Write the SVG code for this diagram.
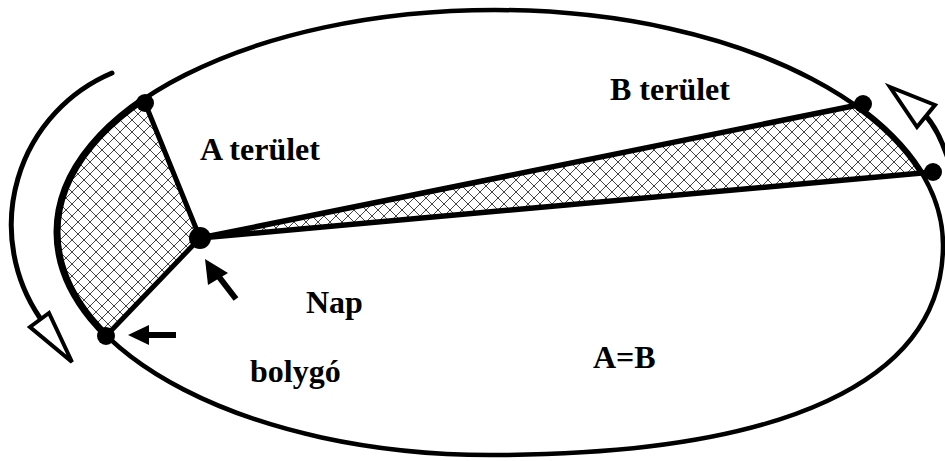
<svg xmlns="http://www.w3.org/2000/svg" width="945" height="461" viewBox="0 0 945 461">
<style>
.lbl{font-family:"Liberation Serif","Times New Roman",serif;font-weight:bold;font-size:32px;fill:#000}
.ln{fill:none;stroke:#000;stroke-linejoin:round;stroke-linecap:round}
.dot{fill:#000}
</style>
<defs>
<pattern id="hatch" patternUnits="userSpaceOnUse" width="12" height="12">
<path d="M0,0 L12,12 M12,0 L0,12" stroke="#444" stroke-width="1"/>
</pattern>
<path id="orbitPath" d="M495,10 C742,10 943,115 943,245 C943,381 785,455 490,455 C251,455 57,355 57,232 C57,109 253,10 495,10 Z"/>
<clipPath id="inOrbit"><use href="#orbitPath"/></clipPath>
<clipPath id="wedgeA"><polygon points="200,238 145,103 125,54 -10,54 -10,400 66,378 106,336"/></clipPath>
<clipPath id="wedgeB"><polygon points="200,238 863,104 962,84 1000,84 1000,166 933,172"/></clipPath>
</defs>
<rect width="945" height="461" fill="#fff"/>
<g id="orbit">
<use href="#orbitPath" fill="none" stroke="#000" stroke-width="4.5"/>
</g>
<g id="areaA">
<g clip-path="url(#inOrbit)"><polygon points="200,238 145,103 125,54 -10,54 -10,400 66,378 106,336" fill="url(#hatch)"/></g>
<use href="#orbitPath" fill="none" stroke="#000" stroke-width="7" clip-path="url(#wedgeA)"/>
<path class="ln" d="M145,103 L200,238 L106,336" stroke-width="5"/>
<text class="lbl" x="200" y="160">A terület</text>
</g>
<g id="areaB">
<g clip-path="url(#inOrbit)"><polygon points="200,238 863,104 962,84 1000,84 1000,166 933,172" fill="url(#hatch)"/></g>
<use href="#orbitPath" fill="none" stroke="#000" stroke-width="6" clip-path="url(#wedgeB)"/>
<path class="ln" d="M863,104 L200,238 L933,172" stroke-width="5.5"/>
<text class="lbl" x="610" y="100">B terület</text>
</g>
<g id="sun">
<circle class="dot" cx="200" cy="238" r="11"/>
<text class="lbl" x="306" y="313">Nap</text>
</g>
<g id="planet">
<circle class="dot" cx="145" cy="103" r="9"/>
<circle class="dot" cx="106" cy="336" r="9"/>
<circle class="dot" cx="863" cy="104" r="9"/>
<circle class="dot" cx="933" cy="172" r="9"/>
<text class="lbl" x="250" y="382">bolygó</text>
</g>
<g id="eq">
<text class="lbl" x="593" y="368">A=B</text>
</g>
<g id="connectors">
<path class="ln" d="M112,73 A165,165 0 0,0 40,318" stroke-width="5"/>
<polygon points="30,327 49,313 72,362" fill="#fff" stroke="#000" stroke-width="4" stroke-linejoin="miter"/>
<path class="ln" d="M926,116 Q940,132 950,165" stroke-width="5"/>
<polygon points="890,87 935,105 917,127" fill="#fff" stroke="#000" stroke-width="4" stroke-linejoin="miter"/>
<line x1="236" y1="299" x2="216" y2="273" stroke="#000" stroke-width="6"/>
<polygon points="205,259 208,285 228,273" fill="#000"/>
<line x1="176" y1="335" x2="145" y2="335" stroke="#000" stroke-width="6"/>
<polygon points="128,335 149,325 149,345" fill="#000"/>
</g>
</svg>
